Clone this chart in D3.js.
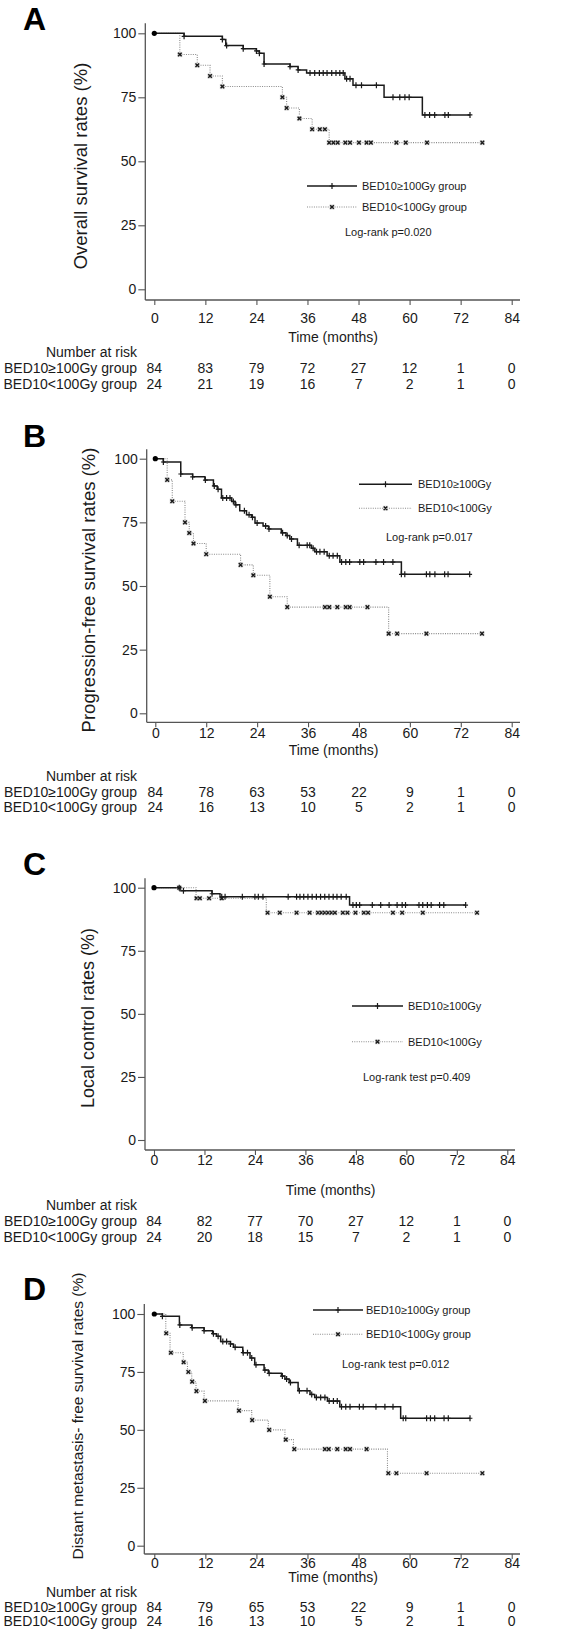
<!DOCTYPE html>
<html><head><meta charset="utf-8">
<script src="https://cdn.jsdelivr.net/npm/d3@7"></script>
<style>
body{margin:0;background:#fff}
text{font-family:"Liberation Sans",Arial,Helvetica,sans-serif;fill:#1a1a1a}
</style>
</head><body>
<svg id="chart" width="568" height="1652"></svg>
<script>
// ---------- shared labels / ticks ----------
const timeTicks = [0, 12, 24, 36, 48, 60, 72, 84];
const pctTicks = [0, 25, 50, 75, 100];
const riskLabels = ["BED10≥100Gy group", "BED10<100Gy group"];
const panelLetters = ["A", "B", "C", "D"];
const yTitles = ["Overall survival rates (%)", "Progression-free survival rates (%)",
  "Local control rates (%)", "Distant metastasis- free survival rates (%)"];
const legendHigh = ["BED10≥100Gy group", "BED10≥100Gy", "BED10≥100Gy", "BED10≥100Gy group"];
const legendLow = ["BED10<100Gy group", "BED10<100Gy", "BED10<100Gy", "BED10<100Gy group"];
const pTexts = ["Log-rank p=0.020", "Log-rank p=0.017", "Log-rank test p=0.409", "Log-rank test p=0.012"];

// ---------- Panel A: overall survival ----------
const aHighSteps = [[7.0,98.8],[16.0,97.6],[16.8,95.2],[20.9,94.0],[24.0,93.1],[24.7,92.2],[25.8,88.0],[31.9,87.0],[33.8,85.7],[35.8,84.5],[44.8,82.2],[46.7,79.7],[54.0,75.0],[63.0,68.1]];
const aHighCens = [7.0,16.0,17.0,20.9,24.0,24.7,25.8,31.9,33.8,36.6,37.7,38.8,39.7,40.6,41.7,42.7,43.6,44.4,45.2,46.0,47.4,48.7,52.2,56.1,57.7,58.9,59.9,63.6,64.7,65.9,68.3,69.1,74.2];
const aLowSteps = [[6.0,91.7],[10.1,87.5],[13.1,83.3],[16.0,79.2],[30.1,75.0],[31.1,70.8],[34.1,66.7],[37.1,62.5],[41.1,57.3]];
const aLowCens = [6.0,10.1,13.1,16.0,30.1,31.1,34.1,37.1,38.9,40.1,41.1,42.1,43.1,44.9,46.0,48.1,49.9,50.9,56.9,59.1,64.1,77.1];
const aRiskHigh = [84,83,79,72,27,12,1,0];
const aRiskLow = [24,21,19,16,7,2,1,0];

// ---------- Panel B: progression-free survival ----------
const bHighSteps = [[1.9,98.7],[6.0,94.0],[8.8,92.9],[11.7,91.6],[13.7,89.3],[14.6,88.0],[15.6,84.6],[18.0,83.2],[18.8,81.9],[19.9,79.6],[21.5,78.0],[22.7,77.0],[23.5,74.7],[25.4,73.6],[26.7,72.4],[29.7,70.9],[30.8,69.8],[31.7,68.5],[33.5,66.0],[36.8,64.8],[37.6,63.5],[40.5,61.9],[43.5,59.4],[58.0,54.6]];
const bHighCens = [1.9,6.0,8.8,11.8,13.9,14.8,15.9,16.8,17.6,18.4,19.0,21.0,22.1,22.9,24.0,26.0,26.8,30.0,31.1,32.1,33.9,35.8,36.4,37.2,38.0,38.8,39.8,41.0,41.9,42.9,43.9,44.9,45.8,48.2,49.1,52.0,53.8,56.0,58.0,58.8,63.9,64.7,65.9,68.2,69.0,74.1];
const bLowSteps = [[2.8,91.7],[4.0,83.3],[7.0,75.0],[8.0,70.8],[9.0,66.7],[12.0,62.5],[20.1,58.3],[23.1,54.2],[27.0,45.8],[31.1,41.7],[55.0,31.3]];
const bLowCens = [2.8,4.0,7.0,8.0,9.0,12.0,20.1,23.1,27.0,31.1,40.0,41.0,42.9,44.9,45.8,50.0,55.0,57.0,63.9,77.0];
const bRiskHigh = [84,78,63,53,22,9,1,0];
const bRiskLow = [24,16,13,10,5,2,1,0];

// ---------- Panel C: local control ----------
const cHighSteps = [[6.2,98.8],[13.8,97.6],[15.7,96.4],[46.5,93.1]];
const cHighCens = [6.0,7.0,13.8,16.1,16.9,21.0,24.0,24.8,25.9,31.9,33.9,34.7,35.6,36.6,37.6,38.6,39.6,40.6,41.6,42.6,43.5,44.5,45.7,47.3,48.1,48.9,51.9,53.9,55.9,57.8,59.0,59.8,63.0,63.9,65.0,65.9,67.9,68.9,74.1];
const cLowSteps = [[10.0,95.8],[26.7,90.1]];
const cLowCens = [6.0,10.1,10.9,13.1,16.1,27.0,29.9,33.9,37.0,39.0,39.8,40.6,41.4,42.2,43.0,44.9,46.0,47.9,49.9,50.9,56.8,59.0,63.9,76.8];
const cRiskHigh = [84,82,77,70,27,12,1,0];
const cRiskLow = [24,20,18,15,7,2,1,0];

// ---------- Panel D: distant metastasis-free survival ----------
const dHighSteps = [[1.9,99.0],[5.9,95.3],[8.8,94.1],[11.7,92.8],[13.7,91.5],[14.6,90.4],[15.6,88.1],[17.9,87.1],[18.6,85.6],[20.8,83.3],[22.5,81.0],[23.6,78.1],[25.8,75.8],[26.8,74.4],[29.9,73.2],[30.7,71.9],[31.7,70.4],[33.8,66.9],[36.6,65.3],[37.7,64.0],[40.7,62.4],[43.6,60.0],[57.9,55.0]];
const dHighCens = [1.9,6.0,8.9,11.7,13.9,15.0,16.1,17.0,17.9,19.0,20.9,21.9,22.9,23.9,26.0,27.0,30.1,31.1,32.0,34.1,35.9,37.0,38.1,39.1,40.1,41.1,42.1,43.0,44.0,45.0,46.0,48.2,49.1,52.1,54.2,56.1,58.5,59.1,64.0,64.9,65.9,68.1,69.1,74.2];
const dLowSteps = [[2.7,91.7],[3.7,83.3],[6.8,79.2],[7.8,75.0],[8.8,70.8],[9.8,66.7],[11.7,62.5],[19.7,58.3],[22.9,54.2],[26.8,50.0],[30.7,45.8],[32.7,41.7],[54.8,31.3]];
const dLowCens = [2.8,3.9,6.9,8.0,8.9,9.9,11.9,19.9,23.0,27.0,30.9,32.9,40.1,41.0,43.0,45.0,46.0,49.9,55.0,56.9,64.0,77.1];
const dRiskHigh = [84,79,65,53,22,9,1,0];
const dRiskLow = [24,16,13,10,5,2,1,0];

// ---------- layout (positions only) ----------
const layouts = [
  {x0:154.3,x84:511.7,y100:33.3,y0:289.3,axisX:145.3,axisY:300,axisTop:23.3,axisRight:520,letterY:30,titleX:87,titleY:166,titleSize:18.5,tickY:318,timeY:337,narY:352,row1Y:368,row2Y:384,leg:{x1:307,x2:357,y1:186,y2:207,tx:362,px:345,py:232}},
  {x0:155.3,x84:511.7,y100:458.7,y0:713.3,axisX:146.7,axisY:722.3,axisTop:449.3,axisRight:520,letterY:447,titleX:95,titleY:590,titleSize:18.5,tickY:733,timeY:750,narY:776,row1Y:791.7,row2Y:806.7,leg:{x1:359,x2:412,y1:484.3,y2:508.3,tx:418,px:386,py:536.7}},
  {x0:154,x84:507.3,y100:887.7,y0:1140,axisX:145,axisY:1150,axisTop:878.3,axisRight:515,letterY:875,titleX:94,titleY:1018,titleSize:18,tickY:1160,timeY:1190,narY:1205,row1Y:1220.7,row2Y:1236.7,leg:{x1:352,x2:403,y1:1006,y2:1041.7,tx:408,px:363,py:1076.7}},
  {x0:154.3,x84:511.7,y100:1314,y0:1545.7,axisX:144.3,axisY:1554,axisTop:1304,axisRight:520,letterY:1300,titleX:83,titleY:1416,titleSize:15.5,tickY:1563,timeY:1577,narY:1591.5,row1Y:1606.5,row2Y:1621,leg:{x1:313,x2:363,y1:1310,y2:1334.3,tx:366,px:342,py:1364.3}}
];

const panelData = [
  {hs:aHighSteps,hc:aHighCens,ls:aLowSteps,lc:aLowCens,rh:aRiskHigh,rl:aRiskLow},
  {hs:bHighSteps,hc:bHighCens,ls:bLowSteps,lc:bLowCens,rh:bRiskHigh,rl:bRiskLow},
  {hs:cHighSteps,hc:cHighCens,ls:cLowSteps,lc:cLowCens,rh:cRiskHigh,rl:cRiskLow},
  {hs:dHighSteps,hc:dHighCens,ls:dLowSteps,lc:dLowCens,rh:dRiskHigh,rl:dRiskLow}
];

const svg = d3.select("#chart");
svg.append("rect").attr("width",568).attr("height",1652).attr("fill","#fff");
const AX = "#555", DARK = "#1a1a1a", DOT = "#8a8a8a";

function survAt(steps, t){ let s = 100; for (const [st, v] of steps) if (st <= t + 1e-9) s = v; return s; }

function plusMark(g, x, y, h){
  g.append("path").attr("d",`M${x},${y-h}V${y+h}M${x-h*0.8},${y}H${x+h*0.8}`)
    .attr("stroke",DARK).attr("stroke-width",1.2).attr("fill","none");
}
function xMark(g, x, y, r){
  g.append("rect").attr("x",x-r-0.8).attr("y",y-r-0.8).attr("width",2*r+1.6).attr("height",2*r+1.6).attr("fill","#c8c8c8").attr("opacity",0.6);
  g.append("path").attr("d",`M${x-r},${y-r}L${x+r},${y+r}M${x-r},${y+r}L${x+r},${y-r}`)
    .attr("stroke",DARK).attr("stroke-width",1.4).attr("fill","none");
}

layouts.forEach((L, i) => {
  const D = panelData[i];
  const g = svg.append("g");
  const x = d3.scaleLinear().domain([0,84]).range([L.x0, L.x84]);
  const y = d3.scaleLinear().domain([0,100]).range([L.y0, L.y100]);

  g.append("text").attr("x",23).attr("y",L.letterY).text(panelLetters[i])
    .style("font-size","32px").style("font-weight","bold").style("fill","#000");

  g.append("line").attr("x1",L.axisX).attr("x2",L.axisX).attr("y1",L.axisTop).attr("y2",L.axisY)
    .attr("stroke",AX).attr("stroke-width",1.3);
  g.append("line").attr("x1",L.axisX).attr("x2",L.axisRight).attr("y1",L.axisY).attr("y2",L.axisY)
    .attr("stroke",AX).attr("stroke-width",1.3);

  const yAxis = d3.axisLeft(y).tickValues(pctTicks).tickSize(7).tickPadding(2);
  const ya = g.append("g").attr("transform",`translate(${L.axisX},0)`).call(yAxis);
  ya.select(".domain").remove();
  ya.selectAll("line").attr("stroke",AX).attr("stroke-width",1.1);
  ya.selectAll("text").style("font-size","14px").style("font-family",'"Liberation Sans",Arial,sans-serif').attr("fill",DARK);

  const xAxis = d3.axisBottom(x).tickValues(timeTicks).tickSize(5).tickFormat(d3.format("d"));
  const xa = g.append("g").attr("transform",`translate(0,${L.axisY})`).call(xAxis);
  xa.select(".domain").remove();
  xa.selectAll("line").attr("stroke",AX).attr("stroke-width",1.1);
  xa.selectAll("text").attr("y",0).attr("dy",null)
    .attr("transform",`translate(0,${L.tickY - L.axisY})`).attr("dominant-baseline","central")
    .style("font-size","14px").style("font-family",'"Liberation Sans",Arial,sans-serif').attr("fill",DARK);

  g.append("text").attr("transform",`translate(${L.titleX},${L.titleY}) rotate(-90)`)
    .attr("text-anchor","middle").style("font-size",L.titleSize+"px").text(yTitles[i]);

  g.append("text").attr("x",(L.x0+L.x84)/2).attr("y",L.timeY).attr("dominant-baseline","central")
    .attr("text-anchor","middle").style("font-size","14px").text("Time (months)");

  g.append("text").attr("x",137).attr("y",L.narY).attr("dominant-baseline","central")
    .attr("text-anchor","end").style("font-size","14px").text("Number at risk");
  [[riskLabels[0],D.rh,L.row1Y],[riskLabels[1],D.rl,L.row2Y]].forEach(([lab, vals, ry]) => {
    g.append("text").attr("x",137).attr("y",ry).attr("dominant-baseline","central")
      .attr("text-anchor","end").style("font-size","14px").text(lab);
    g.selectAll(null).data(vals).join("text")
      .attr("x",(d,k)=>x(timeTicks[k])).attr("y",ry).attr("dominant-baseline","central")
      .attr("text-anchor","middle").style("font-size","14px").text(d=>d);
  });

  const line = d3.line().x(d=>x(d[0])).y(d=>y(d[1])).curve(d3.curveStepAfter);
  const build = (steps, cens) => {
    const end = d3.max(cens);
    return [[0,100], ...steps, [end, steps[steps.length-1][1]]];
  };
  g.append("path").attr("d",line(build(D.ls,D.lc))).attr("fill","none")
    .attr("stroke",DOT).attr("stroke-width",1.1).attr("stroke-dasharray","1,1.3");
  g.append("path").attr("d",line(build(D.hs,D.hc))).attr("fill","none")
    .attr("stroke",DARK).attr("stroke-width",1.5);
  D.lc.forEach(t => xMark(g, x(t), y(survAt(D.ls,t)), 1.8));
  D.hc.forEach(t => plusMark(g, x(t), y(survAt(D.hs,t)), 3));
  g.append("circle").attr("cx",x(0)).attr("cy",y(100)).attr("r",2.6).attr("fill","#000");

  const lg = L.leg;
  g.append("line").attr("x1",lg.x1).attr("x2",lg.x2).attr("y1",lg.y1).attr("y2",lg.y1)
    .attr("stroke",DARK).attr("stroke-width",1.5);
  plusMark(g,(lg.x1+lg.x2)/2,lg.y1,3);
  g.append("line").attr("x1",lg.x1).attr("x2",lg.x2).attr("y1",lg.y2).attr("y2",lg.y2)
    .attr("stroke",DOT).attr("stroke-width",1.1).attr("stroke-dasharray","1,1.3");
  xMark(g,(lg.x1+lg.x2)/2,lg.y2,1.8);
  g.append("text").attr("x",lg.tx).attr("y",lg.y1).attr("dominant-baseline","central")
    .style("font-size","11px").text(legendHigh[i]);
  g.append("text").attr("x",lg.tx).attr("y",lg.y2).attr("dominant-baseline","central")
    .style("font-size","11px").text(legendLow[i]);
  g.append("text").attr("x",lg.px).attr("y",lg.py).attr("dominant-baseline","central")
    .style("font-size","11px").text(pTexts[i]);
});
</script>
</body></html>
